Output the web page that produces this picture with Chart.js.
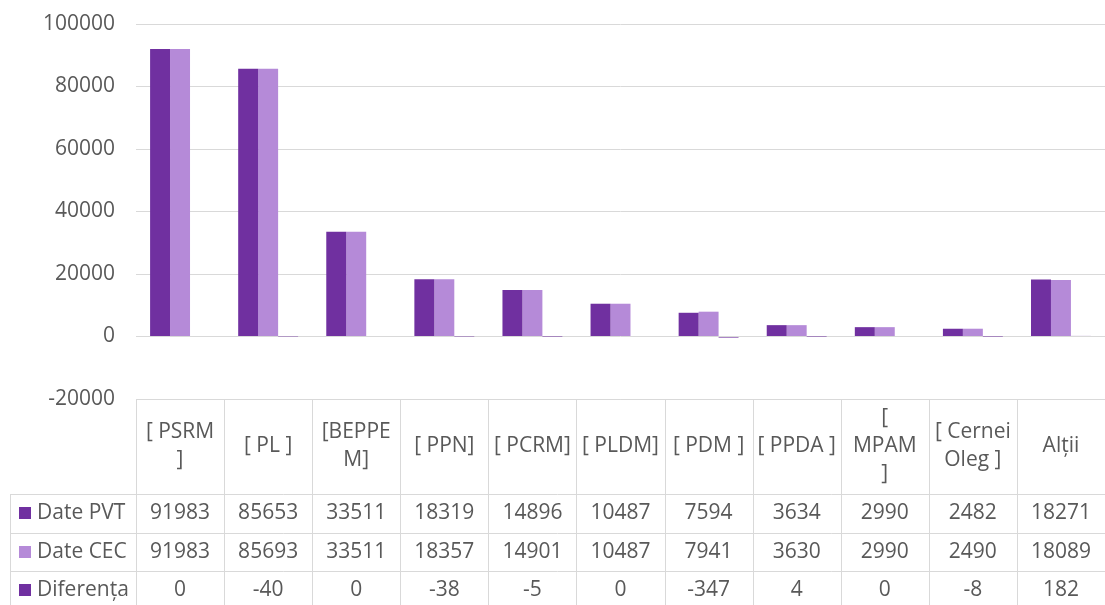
<!DOCTYPE html>
<html>
<head>
<meta charset="utf-8">
<script src="https://cdn.jsdelivr.net/npm/chart.js@4"></script>
<style>
  html, body { margin: 0; padding: 0; background: #fff; }
  #wrap { width: 1105px; height: 605px; }
</style>
</head>
<body>
<div id="wrap"><canvas id="chart"></canvas></div>
<script>
// categories, as they wrap in the table header
const categories = [
    ["[ PSRM", "]"], ["[ PL ]"], ["[BEPPE", "M]"], ["[ PPN]"], ["[ PCRM]"],
    ["[ PLDM]"], ["[ PDM ]"], ["[ PPDA ]"], ["[", "MPAM", "]"], ["[ Cernei", "Oleg ]"], ["Alții"]
];
const datePVT = [91983, 85653, 33511, 18319, 14896, 10487, 7594, 3634, 2990, 2482, 18271];
const dateCEC = [91983, 85693, 33511, 18357, 14901, 10487, 7941, 3630, 2990, 2490, 18089];
const diferenta = [0, -40, 0, -38, -5, 0, -347, 4, 0, -8, 182];
const yTicks = [100000, 80000, 60000, 40000, 20000, 0, -20000];

const DARK = "#7030a0";
const LIGHT = "#b58ad8";
const GRID = "#d9d9d9";
const TEXT = "#595959";
const FONT = "'Open Sans', 'Liberation Sans', sans-serif";

// draws the data table under the plot
const dataTable = {
    id: "dataTable",
    afterDraw(chart) {
        const ctx = chart.ctx;
        const area = chart.chartArea;
        const x = chart.scales.x;
        const colW = (area.right - area.left) / categories.length;
        const top = area.bottom;
        const headH = 95;
        const rowH = 38.5;
        const legLeft = 10;
        const rows = chart.data.datasets;

        ctx.save();
        ctx.strokeStyle = GRID;
        ctx.lineWidth = 1;

        // horizontal lines
        ctx.beginPath();
        ctx.moveTo(area.left, top + 0.5);
        ctx.lineTo(area.right, top + 0.5);
        for (let r = 0; r <= rows.length; r++) {
            const y = Math.round(top + headH + r * rowH) + 0.5;
            ctx.moveTo(legLeft, y);
            ctx.lineTo(area.right, y);
        }
        // vertical lines
        for (let c = 0; c <= categories.length; c++) {
            const xx = Math.round(area.left + c * colW) + 0.5;
            ctx.moveTo(xx, top);
            ctx.lineTo(xx, chart.height + 5);
        }
        ctx.moveTo(legLeft + 0.5, top + headH);
        ctx.lineTo(legLeft + 0.5, chart.height + 5);
        ctx.stroke();

        ctx.fillStyle = TEXT;
        ctx.font = "21px " + FONT;
        ctx.textAlign = "center";
        ctx.textBaseline = "middle";

        // header labels
        const lineH = 28;
        categories.forEach((lines, i) => {
            const cx = x.getPixelForValue(i);
            const cy = top + headH / 2;
            const y0 = cy - (lines.length - 1) * lineH / 2;
            lines.forEach((t, k) => ctx.fillText(t, cx, y0 + k * lineH));
        });

        // data rows
        rows.forEach((ds, r) => {
            const cy = top + headH + r * rowH + rowH / 2;
            ds.data.forEach((v, i) => {
                ctx.fillText(String(v), x.getPixelForValue(i), cy);
            });
            ctx.fillStyle = ds.backgroundColor;
            ctx.fillRect(19, Math.round(cy - 6), 12, 12);
            ctx.fillStyle = TEXT;
            ctx.textAlign = "left";
            ctx.fillText(ds.label, 37, cy);
            ctx.textAlign = "center";
        });
        ctx.restore();
    }
};

new Chart(document.getElementById("chart"), {
    type: "bar",
    data: {
        labels: categories.map(l => l.join(" ")),
        datasets: [
            { label: "Date PVT", data: datePVT, backgroundColor: DARK },
            { label: "Date CEC", data: dateCEC, backgroundColor: LIGHT },
            { label: "Diferența", data: diferenta, backgroundColor: DARK }
        ]
    },
    options: {
        responsive: true,
        maintainAspectRatio: false,
        animation: false,
        layout: { padding: { top: 24, right: 0, bottom: 206, left: 0 } },
        datasets: { bar: { categoryPercentage: 0.68, barPercentage: 1 } },
        plugins: { legend: { display: false }, tooltip: { enabled: false } },
        scales: {
            x: { display: false },
            y: {
                min: -20000,
                max: 100000,
                afterFit(scale) {
                    scale.width = 136;
                    scale.paddingTop = 0;
                    scale.paddingBottom = 0;
                },
                afterBuildTicks(scale) { scale.ticks = yTicks.map(v => ({ value: v })); },
                border: { display: false },
                grid: { color: GRID, drawTicks: false },
                ticks: {
                    padding: 21,
                    color: TEXT,
                    font: { family: FONT, size: 21 },
                    callback: v => String(v)
                }
            }
        }
    },
    plugins: [dataTable]
});
</script>
</body>
</html>
